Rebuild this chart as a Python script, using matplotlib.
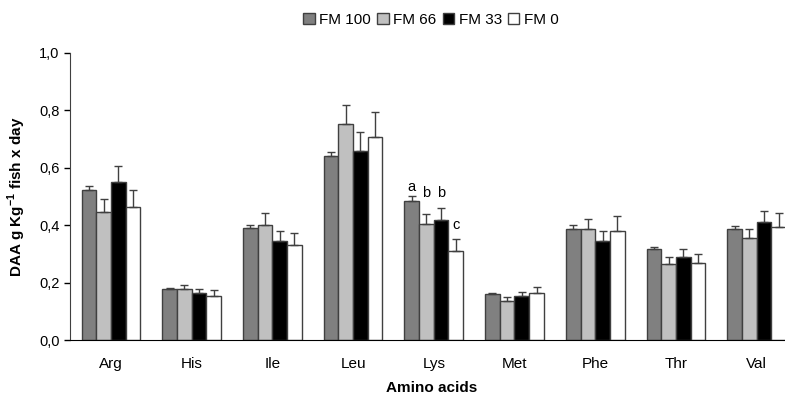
import matplotlib
matplotlib.use("Agg")
import matplotlib.pyplot as plt
import numpy as np

plt.rcParams['font.family'] = ['Liberation Sans', 'DejaVu Sans']

amino = ["Arg", "His", "Ile", "Leu", "Lys", "Met", "Phe", "Thr", "Val"]
diets = ["FM 100", "FM 66", "FM 33", "FM 0"]

fm100 = [0.523, 0.177, 0.391, 0.642, 0.485, 0.161, 0.388, 0.317, 0.388]
fm66 = [0.447, 0.177, 0.402, 0.753, 0.403, 0.137, 0.386, 0.264, 0.356]
fm33 = [0.552, 0.165, 0.345, 0.660, 0.417, 0.154, 0.346, 0.289, 0.410]
fm0 = [0.462, 0.153, 0.331, 0.708, 0.310, 0.165, 0.381, 0.268, 0.395]

err100 = [0.015, 0.003, 0.011, 0.014, 0.018, 0.003, 0.011, 0.007, 0.010]
err66 = [0.043, 0.015, 0.042, 0.067, 0.036, 0.014, 0.034, 0.025, 0.032]
err33 = [0.055, 0.013, 0.036, 0.065, 0.042, 0.014, 0.035, 0.027, 0.040]
err0 = [0.061, 0.022, 0.043, 0.087, 0.043, 0.021, 0.050, 0.033, 0.049]

# significance letters for Lys
lys_letters = ["a", "b", "b", "c"]
lys_letter_y = [0.534, 0.511, 0.511, 0.400]

series = [fm100, fm66, fm33, fm0]
errors = [err100, err66, err33, err0]
colors = ["#808080", "#c0c0c0", "#000000", "#ffffff"]

fig = plt.figure(figsize=(7.85, 3.94), dpi=100)
ax = fig.add_axes([70 / 785, 1 - 340 / 394, 715 / 785, 287 / 394])

x = np.arange(len(amino))
w = 0.182
offsets = np.array([-1.5, -0.5, 0.5, 1.5]) * w

for vals, errs, col, lab, off in zip(series, errors, colors, diets, offsets):
    ax.bar(x + off, vals, w, color=col, edgecolor="#404040", linewidth=1.0,
           label=lab, yerr=[np.zeros(len(errs)), errs],
           error_kw=dict(ecolor="#404040", elinewidth=1.0, capsize=3, capthick=1.0))

lys = amino.index("Lys")
for off, t, yy in zip(offsets, lys_letters, lys_letter_y):
    ax.text(lys + off, yy, t, ha="center", va="center", fontsize=10.5)

ax.set_xlim(-0.508, 8.352)
ax.set_ylim(0, 1.0)
ax.set_yticks(np.arange(0, 1.01, 0.2))
ax.set_yticklabels(["0,0", "0,2", "0,4", "0,6", "0,8", "1,0"], fontsize=10.5)
ax.set_xticks(x)
ax.set_xticklabels(amino, fontsize=11)
ax.tick_params(axis="x", length=0, pad=12)
ax.tick_params(axis="y", length=4, width=1, direction="out")
ax.spines["top"].set_visible(False)
ax.spines["right"].set_visible(False)
ax.spines["left"].set_color("#404040")
ax.spines["bottom"].set_color("#000000")

ax.set_ylabel("DAA g Kg$^{\\mathregular{-1}}$ fish x day", fontsize=11,
              fontweight="bold", labelpad=8)
fig.text(432 / 785, 1 - 388 / 394, "Amino acids", ha="center", va="center",
         fontsize=11, fontweight="bold")

fig.legend(loc="center", bbox_to_anchor=(431 / 785, 1 - 20 / 394), ncol=4,
           frameon=False, fontsize=11, handlelength=0.75, handleheight=0.75,
           handletextpad=0.3, columnspacing=0.4)

fig.savefig("out.png", dpi=100)
